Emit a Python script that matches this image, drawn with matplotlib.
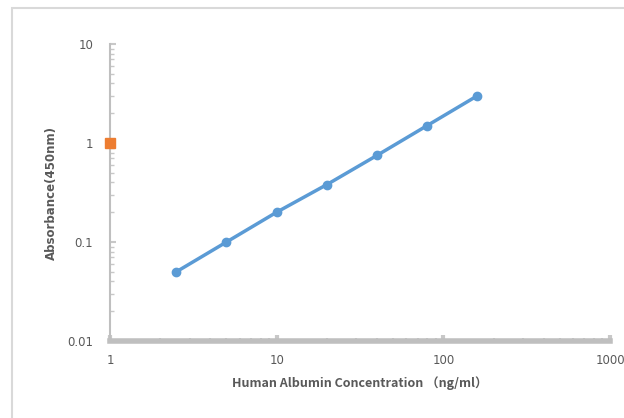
import matplotlib.pyplot as plt
from matplotlib.ticker import LogLocator, FixedFormatter, NullFormatter
from matplotlib.patches import Rectangle

conc = [2.5, 5, 10, 20, 40, 80, 160]
absorb = [0.05, 0.1, 0.2, 0.38, 0.75, 1.5, 3.0]
blank_x = [1]
blank_y = [1]
x_ticks = [1, 10, 100, 1000]
x_labels = ['1', '10', '100', '1000']
y_ticks = [0.01, 0.1, 1, 10]
y_labels = ['0.01', '0.1', '1', '10']

W, H = 624, 418
fig = plt.figure(figsize=(W / 100, H / 100), dpi=100)
fig.patches.append(Rectangle((12 / W, -0.1), 1.2, (418 - 8) / H + 0.1, transform=fig.transFigure,
                             fill=False, edgecolor='#d9d9d9', linewidth=1.5))
ax = fig.add_axes([110 / W, (418 - 341) / H, 500 / W, 297 / H])

ax.plot(conc, absorb, color='#5b9bd5', linewidth=2.5, marker='o', markersize=6, zorder=3)
ax.plot(blank_x, blank_y, linestyle='none', marker='s', markersize=7, color='#ed7d31',
        clip_on=False, zorder=4)

ax.set_xscale('log')
ax.set_yscale('log')
ax.set_xlim(1, 1000)
ax.set_ylim(0.01, 10)

ax.set_xticks(x_ticks)
ax.xaxis.set_major_formatter(FixedFormatter(x_labels))
ax.xaxis.set_minor_locator(LogLocator(base=10, subs=range(2, 10)))
ax.xaxis.set_minor_formatter(NullFormatter())
ax.set_yticks(y_ticks)
ax.yaxis.set_major_formatter(FixedFormatter(y_labels))
ax.yaxis.set_minor_locator(LogLocator(base=10, subs=range(2, 10)))
ax.yaxis.set_minor_formatter(NullFormatter())

for s in ['top', 'right']:
    ax.spines[s].set_visible(False)
ax.spines['left'].set_color('#bfbfbf')
ax.spines['left'].set_linewidth(1.5)
ax.spines['bottom'].set_color('#bfbfbf')
ax.spines['bottom'].set_linewidth(4)
ax.spines['bottom'].set_capstyle('projecting')

ax.tick_params(axis='y', which='both', direction='in', color='#c8c8c8', labelcolor='#595959',
               labelsize=8.5, pad=12)
ax.tick_params(axis='y', which='major', length=4, width=1.5)
ax.tick_params(axis='y', which='minor', length=3, width=1)
ax.tick_params(axis='x', which='both', direction='in', color='#c8c8c8', labelcolor='#595959',
               labelsize=8.5, pad=9)
ax.tick_params(axis='x', which='major', length=4, width=3)
ax.tick_params(axis='x', which='minor', length=2.5, width=1.5)

ax.set_xlabel('Human Albumin Concentration \uff08ng/ml\uff09', fontsize=9, fontweight='bold',
              color='#595959', labelpad=7, family=['Noto Sans CJK SC', 'DejaVu Sans'])
ax.set_ylabel('Absorbance(450nm)', fontsize=8.5, fontweight='bold', color='#595959', labelpad=7)

fig.savefig('out.png', dpi=100)
